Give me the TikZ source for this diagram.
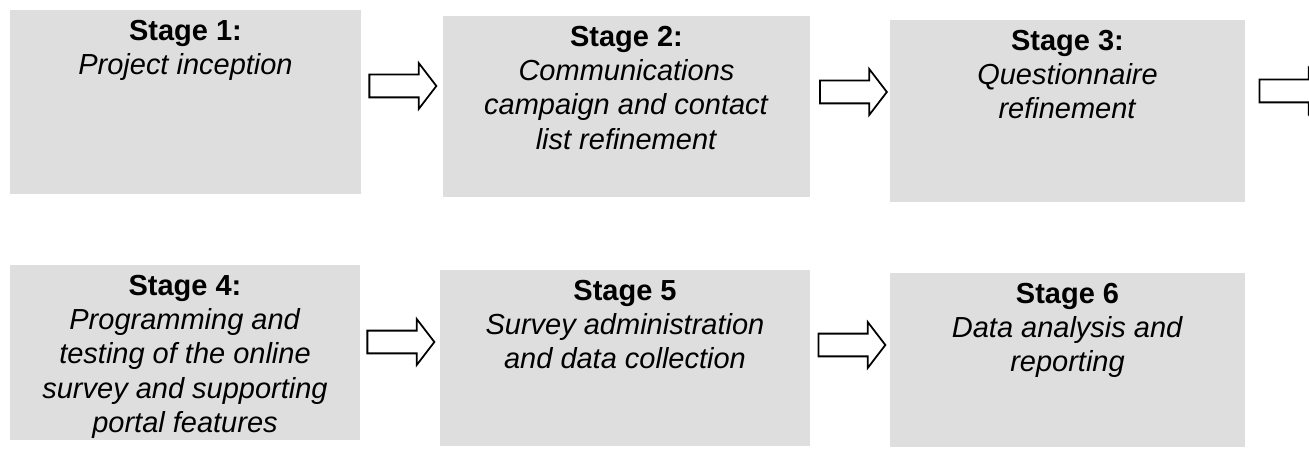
\documentclass[tikz,border=0pt]{standalone}
\usepackage{fontspec}
\setmainfont{Liberation Sans}
\usepackage{tikz}
\usetikzlibrary{
  positioning,
  shapes.arrows
}

\begin{document}
\begin{tikzpicture}[x=0.02cm,y=-0.02cm,
    stagebox/.style={rectangle,fill=black!13,inner sep=0pt},
    stagetext/.style={anchor=north,align=center,inner sep=0pt,font=\fontsize{16.5}{19.5}\selectfont},
    flowarrow/.style={single arrow,draw=black,fill=white,line width=1pt,minimum height=1.34cm,
      minimum width=0pt,inner xsep=0pt,inner ysep=0.21cm,single arrow head extend=0.23cm,
      single arrow tip angle=105}]
            \useasboundingbox (0,0) rectangle (1309,449);
            \clip (0,0) rectangle (1309,449);

            \node[stagebox,minimum width=7.02cm,minimum height=3.68cm] (s1) at (185.5,102) {};
            \node[stagebox,minimum width=7.34cm,minimum height=3.62cm] (s2) at (626.5,106.5) {};
            \node[stagebox,minimum width=7.1cm,minimum height=3.64cm] (s3) at (1067.5,111) {};
            \node[stagebox,minimum width=7.0cm,minimum height=3.5cm] (s4) at (185,352.5) {};
            \node[stagebox,minimum width=7.4cm,minimum height=3.52cm] (s5) at (625,358) {};
            \node[stagebox,minimum width=7.1cm,minimum height=3.48cm] (s6) at (1067.5,360) {};

            \node[stagetext] (t1) at ([yshift=-0.2cm]s1.north) {\textbf{Stage 1:}\\\textit{Project inception}};
            \node[stagetext] (t2) at ([yshift=-0.2cm]s2.north) {\textbf{Stage 2:}\\\textit{Communications}\\\textit{campaign and contact}\\\textit{list refinement}};
            \node[stagetext] (t3) at ([yshift=-0.2cm]s3.north) {\textbf{Stage 3:}\\\textit{Questionnaire}\\\textit{refinement}};
            \node[stagetext] (t4) at ([yshift=-0.2cm]s4.north) {\textbf{Stage 4:}\\\textit{Programming and}\\\textit{testing of the online}\\\textit{survey and supporting}\\\textit{portal features}};
            \node[stagetext] (t5) at ([yshift=-0.2cm]s5.north) {\textbf{Stage 5}\\\textit{Survey administration}\\\textit{and data collection}};
            \node[stagetext] (t6) at ([yshift=-0.2cm]s6.north) {\textbf{Stage 6}\\\textit{Data analysis and}\\\textit{reporting}};

            \node[flowarrow] (a1) at (398.5,86) {};
            \node[flowarrow] (a2) at (849,92) {};
            \node[flowarrow] (a3) at (1288.5,91) {};
            \node[flowarrow] (a4) at (396.5,342) {};
            \node[flowarrow] (a5) at (847.5,345) {};
        \end{tikzpicture}
\end{document}
